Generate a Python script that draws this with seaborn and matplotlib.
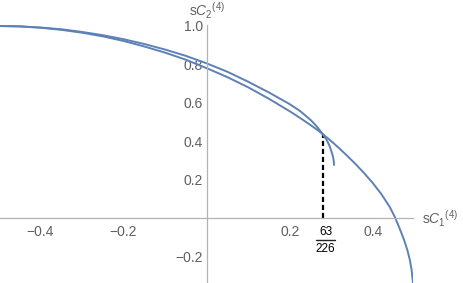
import pandas as pd
import seaborn as sns
import matplotlib.pyplot as plt
from matplotlib.ticker import MultipleLocator, FixedLocator
import matplotlib.transforms as mtransforms

# curve that ends in the short hook near x = 0.31
hook_x = [-0.50, -0.45, -0.40, -0.35, -0.30, -0.25, -0.20, -0.15, -0.10, -0.05,
          0.00, 0.05, 0.10, 0.15, 0.20, 0.225, 0.25, 0.265, 0.2788, 0.2888, 0.295,
          0.299, 0.3025, 0.3047, 0.306, 0.3064]
hook_y = [1.000, 0.998, 0.992, 0.983, 0.969, 0.952, 0.931, 0.906, 0.877, 0.844,
          0.805, 0.761, 0.709, 0.653, 0.592, 0.556, 0.510, 0.476, 0.437, 0.405, 0.378,
          0.353, 0.330, 0.310, 0.290, 0.275]

# outer curve running down to the bottom edge
outer_x = [-0.50, -0.45, -0.40, -0.35, -0.30, -0.25, -0.20, -0.15, -0.10, -0.05,
           0.00, 0.05, 0.10, 0.15, 0.20, 0.225, 0.25, 0.265, 0.2788, 0.30, 0.32,
           0.34, 0.36, 0.38, 0.40, 0.42, 0.44, 0.453, 0.465, 0.475, 0.483,
           0.489, 0.493, 0.4965]
outer_y = [1.000, 0.998, 0.991, 0.980, 0.965, 0.946, 0.922, 0.893, 0.861, 0.824,
           0.780, 0.733, 0.680, 0.620, 0.555, 0.520, 0.483, 0.460, 0.437, 0.399, 0.360,
           0.319, 0.276, 0.230, 0.180, 0.124, 0.058, 0.003, -0.060, -0.116, -0.170,
           -0.221, -0.270, -0.341]

# crossing point marked with the dashed line
cross_x = 63 / 226
cross_y = 0.437
cross_num, cross_den = '63', '226'

x_ticks = [-0.4, -0.2, 0.2, 0.4]
x_labels = ['\u22120.4', '\u22120.2', '0.2', '0.4']
y_ticks = [-0.2, 0.2, 0.4, 0.6, 0.8, 1.0]
y_labels = ['\u22120.2', '0.2', '0.4', '0.6', '0.8', '1.0']

df = pd.concat([
    pd.DataFrame({'x': hook_x, 'y': hook_y, 'curve': 'hook'}),
    pd.DataFrame({'x': outer_x, 'y': outer_y, 'curve': 'outer'}),
])

sns.set_theme(style='white')
plt.rcParams['font.family'] = ['Liberation Sans', 'DejaVu Sans']
plt.rcParams['mathtext.fontset'] = 'custom'
plt.rcParams['mathtext.rm'] = 'Liberation Sans'
plt.rcParams['mathtext.it'] = 'Liberation Sans:italic'
plt.rcParams['mathtext.bf'] = 'Liberation Sans:bold'

blue = '#5E81B5'
axis_col = '#b3b3b3'
text_col = '#5f5f5f'

fig = plt.figure(figsize=(4.63, 2.83), dpi=100)
ax = fig.add_axes([0, 0, 413 / 463, 258 / 283])

for name, part in df.groupby('curve'):
    sns.lineplot(data=part, x='x', y='y', sort=False, estimator=None,
                 color=blue, lw=1.4, ax=ax, legend=False)

ax.plot([cross_x, cross_x], [0, cross_y], color='black', lw=1.6,
        linestyle=(0, (2.3, 1.3)), zorder=1)

ax.set_xlim(-0.4975, 0.4965)
ax.set_ylim(-0.3406, 1.0052)

# axes through the origin
for side in ['top', 'right']:
    ax.spines[side].set_visible(False)
ax.spines['left'].set_position(('data', 0))
ax.spines['bottom'].set_position(('data', 0))
for side in ['left', 'bottom']:
    ax.spines[side].set_color(axis_col)
    ax.spines[side].set_linewidth(0.9)

ax.xaxis.set_major_locator(FixedLocator(x_ticks))
ax.set_xticklabels(x_labels)
ax.yaxis.set_major_locator(FixedLocator(y_ticks))
ax.set_yticklabels(y_labels)
ax.xaxis.set_minor_locator(MultipleLocator(0.05))
ax.yaxis.set_minor_locator(MultipleLocator(0.05))

ax.tick_params(which='both', direction='in', color=axis_col, width=0.9,
               labelcolor=text_col, labelsize=10)
ax.tick_params(which='major', length=3.5)
ax.tick_params(which='minor', length=2.0)
ax.tick_params(axis='x', pad=5.5)
ax.tick_params(axis='y', pad=2.5)

# fraction label under the dashed line
ax.annotate(cross_num, xy=(cross_x, 0), xytext=(3, -14.5), textcoords='offset pixels',
            ha='center', va='center', fontsize=8.5, color='black')
ax.annotate(cross_den, xy=(cross_x, 0), xytext=(3, -31), textcoords='offset pixels',
            ha='center', va='center', fontsize=8.5, color='black')
bar_tr = ax.transData + mtransforms.ScaledTranslation(3 / 100, -22.5 / 100, fig.dpi_scale_trans)
ax.plot([cross_x - 0.023, cross_x + 0.023], [0, 0], color='#222222', lw=1.0,
        transform=bar_tr, clip_on=False)

# axis labels placed at the ends of the axes
tr_top = mtransforms.offset_copy(
    mtransforms.blended_transform_factory(ax.transData, ax.transAxes),
    fig=fig, x=0, y=8.5, units='dots')
ax.text(0, 1.0, r"s$C_2{}^{(4)}$", transform=tr_top, ha='center', va='baseline',
        color=text_col, fontsize=10, clip_on=False)
tr_right = mtransforms.offset_copy(
    mtransforms.blended_transform_factory(ax.transAxes, ax.transData),
    fig=fig, x=8.5, y=-7, units='dots')
ax.text(1.0, 0, r"s$C_1{}^{(4)}$", transform=tr_right, ha='left', va='baseline',
        color=text_col, fontsize=10, clip_on=False)

ax.set_xlabel('')
ax.set_ylabel('')

fig.savefig('out.png', dpi=100)
